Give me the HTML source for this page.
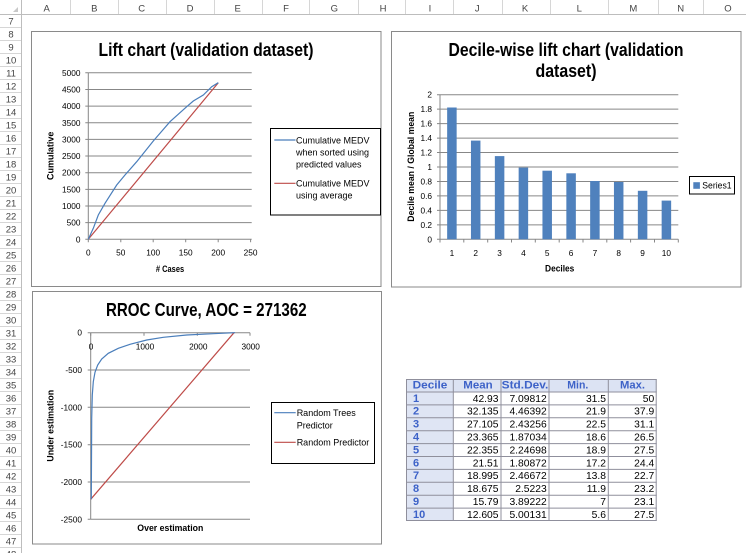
<!DOCTYPE html>
<html><head><meta charset="utf-8"><style>html,body{margin:0;padding:0;background:#fff}svg{display:block}text{font-family:"Liberation Sans",Arial,sans-serif}</style></head><body>
<svg width="746" height="553" viewBox="0 0 746 553" xmlns="http://www.w3.org/2000/svg">
<rect width="746" height="553" fill="#fff"/>
<!-- spreadsheet headers -->
<g stroke="#d6d6d6" stroke-width="1">
<path d="M70.5 0V14 M118.5 0V14 M166.5 0V14 M214.5 0V14 M262.5 0V14 M309.5 0V14 M358.5 0V14 M405.5 0V14 M453.5 0V14 M502.5 0V14 M550.5 0V14 M608.5 0V14 M658.5 0V14 M703.5 0V14"/>
<path d="M0 27.5H22 M0 40.5H22 M0 53.5H22 M0 66.5H22 M0 79.5H22 M0 92.5H22 M0 105.5H22 M0 118.5H22 M0 131.5H22 M0 144.5H22 M0 157.5H22 M0 170.5H22 M0 183.5H22 M0 196.5H22 M0 209.5H22 M0 222.5H22 M0 235.5H22 M0 248.5H22 M0 261.5H22 M0 274.5H22 M0 287.5H22 M0 300.5H22 M0 313.5H22 M0 326.5H22 M0 339.5H22 M0 352.5H22 M0 365.5H22 M0 378.5H22 M0 391.5H22 M0 404.5H22 M0 417.5H22 M0 430.5H22 M0 443.5H22 M0 456.5H22 M0 469.5H22 M0 482.5H22 M0 495.5H22 M0 508.5H22 M0 521.5H22 M0 534.5H22 M0 547.5H22"/>
</g>
<path d="M0 14.5H746 M21.5 0V553" stroke="#bdbdbd" stroke-width="1"/>
<polygon points="18,7 18,12 13,12" fill="#c8c8c8"/>
<g font-size="9.5" fill="#444" text-anchor="middle">
<text x="46.7" y="11.5">A</text><text x="94.3" y="11.5">B</text><text x="141.7" y="11.5">C</text><text x="190" y="11.5">D</text><text x="237.7" y="11.5">E</text><text x="286" y="11.5">F</text><text x="334.3" y="11.5">G</text><text x="383" y="11.5">H</text><text x="430" y="11.5">I</text><text x="477.3" y="11.5">J</text><text x="525" y="11.5">K</text><text x="579.3" y="11.5">L</text><text x="633.3" y="11.5">M</text><text x="680.7" y="11.5">N</text><text x="728" y="11.5">O</text>
</g>
<g font-size="9.5" fill="#444" text-anchor="middle">
<text x="11" y="24.3">7</text><text x="11" y="37.3">8</text><text x="11" y="50.3">9</text><text x="11" y="63.3">10</text><text x="11" y="76.3">11</text><text x="11" y="89.3">12</text><text x="11" y="102.3">13</text><text x="11" y="115.3">14</text><text x="11" y="128.3">15</text><text x="11" y="141.3">16</text><text x="11" y="154.3">17</text><text x="11" y="167.3">18</text><text x="11" y="180.3">19</text><text x="11" y="193.3">20</text><text x="11" y="206.3">21</text><text x="11" y="219.3">22</text><text x="11" y="232.3">23</text><text x="11" y="245.3">24</text><text x="11" y="258.3">25</text><text x="11" y="271.3">26</text><text x="11" y="284.3">27</text><text x="11" y="297.3">28</text><text x="11" y="310.3">29</text><text x="11" y="323.3">30</text><text x="11" y="336.3">31</text><text x="11" y="349.3">32</text><text x="11" y="362.3">33</text><text x="11" y="375.3">34</text><text x="11" y="388.3">35</text><text x="11" y="401.3">36</text><text x="11" y="414.3">37</text><text x="11" y="427.3">38</text><text x="11" y="440.3">39</text><text x="11" y="453.3">40</text><text x="11" y="466.3">41</text><text x="11" y="479.3">42</text><text x="11" y="492.3">43</text><text x="11" y="505.3">44</text><text x="11" y="518.3">45</text><text x="11" y="531.3">46</text><text x="11" y="544.3">47</text><text x="11" y="557.3">48</text>
</g>

<!-- CHART 1 -->
<rect x="31.5" y="31.5" width="349.5" height="255" fill="#fff" stroke="#8a8a8a"/>
<text x="206" y="56" text-anchor="middle" font-weight="bold" font-size="18" textLength="215" lengthAdjust="spacingAndGlyphs">Lift chart (validation dataset)</text>
<g stroke="#878787" stroke-width="1" fill="none">
<path d="M88.3 239.3H251.7 M88.3 222.65H251.7 M88.3 206H251.7 M88.3 189.35H251.7 M88.3 172.7H251.7 M88.3 156.05H251.7 M88.3 139.4H251.7 M88.3 122.75H251.7 M88.3 106.1H251.7 M88.3 89.45H251.7 M88.3 72.8H251.7"/>
<path d="M88.3 72.8V239.3"/>
<path d="M85.3 239.3H88.3 M85.3 222.65H88.3 M85.3 206H88.3 M85.3 189.35H88.3 M85.3 172.7H88.3 M85.3 156.05H88.3 M85.3 139.4H88.3 M85.3 122.75H88.3 M85.3 106.1H88.3 M85.3 89.45H88.3 M85.3 72.8H88.3"/>
<path d="M88.3 239.3V242.3 M120.8 239.3V242.3 M153.2 239.3V242.3 M185.7 239.3V242.3 M218.2 239.3V242.3 M250.6 239.3V242.3"/>
</g>
<g font-size="8.3" text-anchor="end" fill="#000">
<text x="80.5" y="242.3">0</text><text x="80.5" y="225.65">500</text><text x="80.5" y="209">1000</text><text x="80.5" y="192.35">1500</text><text x="80.5" y="175.7">2000</text><text x="80.5" y="159.05">2500</text><text x="80.5" y="142.4">3000</text><text x="80.5" y="125.75">3500</text><text x="80.5" y="109.1">4000</text><text x="80.5" y="92.45">4500</text><text x="80.5" y="75.8">5000</text>
</g>
<g font-size="8.3" text-anchor="middle" fill="#000">
<text x="88.3" y="255.5">0</text><text x="120.8" y="255.5">50</text><text x="153.2" y="255.5">100</text><text x="185.7" y="255.5">150</text><text x="218.2" y="255.5">200</text><text x="250.6" y="255.5">250</text>
</g>
<text x="170" y="272" text-anchor="middle" font-weight="bold" font-size="9" textLength="28.3" lengthAdjust="spacingAndGlyphs"># Cases</text>
<text transform="translate(53.3,155.8) rotate(-90)" text-anchor="middle" font-weight="bold" font-size="9" textLength="48.3" lengthAdjust="spacingAndGlyphs">Cumulative</text>
<polyline fill="none" stroke="#BE4B48" stroke-width="1.2" points="88.3,239.3 218.3,82.7"/>
<polyline fill="none" stroke="#4A7EBB" stroke-width="1.2" points="88.3,239.3 93.3,228.3 98.3,215 105,203.3 116.7,185 125,175 136.7,161.7 153.3,141 170,121.7 186.7,106.7 193.3,101 203.3,95 211.7,86.7 218.3,82.7"/>
<rect x="270.5" y="128.5" width="110" height="86.5" fill="#fff" stroke="#000"/>
<line x1="274.3" y1="140" x2="295.5" y2="140" stroke="#4A7EBB" stroke-width="1.2"/>
<line x1="274.3" y1="183.3" x2="295.5" y2="183.3" stroke="#BE4B48" stroke-width="1.2"/>
<g font-size="9" fill="#000">
<text x="296" y="143.3">Cumulative MEDV</text>
<text x="296" y="155.6">when sorted using</text>
<text x="296" y="167.5">predicted values</text>
<text x="296" y="186.5">Cumulative MEDV</text>
<text x="296" y="198.6">using average</text>
</g>

<!-- CHART 2 -->
<rect x="391.5" y="31.5" width="349.5" height="255.5" fill="#fff" stroke="#8a8a8a"/>
<text x="566" y="56" text-anchor="middle" font-weight="bold" font-size="18" textLength="235" lengthAdjust="spacingAndGlyphs">Decile-wise lift chart (validation</text>
<text x="566" y="77" text-anchor="middle" font-weight="bold" font-size="18" textLength="61" lengthAdjust="spacingAndGlyphs">dataset)</text>
<g stroke="#878787" stroke-width="1" fill="none">
<path d="M440 239.3H678.3 M440 224.84H678.3 M440 210.38H678.3 M440 195.92H678.3 M440 181.46H678.3 M440 167H678.3 M440 152.54H678.3 M440 138.08H678.3 M440 123.62H678.3 M440 109.16H678.3 M440 94.7H678.3"/>
<path d="M440 94.7V239.3"/>
<path d="M437 239.3H440 M437 224.84H440 M437 210.38H440 M437 195.92H440 M437 181.46H440 M437 167H440 M437 152.54H440 M437 138.08H440 M437 123.62H440 M437 109.16H440 M437 94.7H440"/>
<path d="M440 239.3V242.5 M463.8 239.3V242.5 M487.7 239.3V242.5 M511.5 239.3V242.5 M535.3 239.3V242.5 M559.2 239.3V242.5 M583 239.3V242.5 M606.8 239.3V242.5 M630.6 239.3V242.5 M654.5 239.3V242.5 M678.3 239.3V242.5"/>
</g>
<g fill="#4F81BD">
<rect x="447.15" y="107.5" width="9.5" height="131.8"/>
<rect x="470.95" y="140.6" width="9.5" height="98.7"/>
<rect x="494.85" y="156.1" width="9.5" height="83.2"/>
<rect x="518.65" y="167.6" width="9.5" height="71.7"/>
<rect x="542.45" y="170.7" width="9.5" height="68.6"/>
<rect x="566.35" y="173.3" width="9.5" height="66"/>
<rect x="590.15" y="181" width="9.5" height="58.3"/>
<rect x="613.95" y="182" width="9.5" height="57.3"/>
<rect x="637.85" y="190.8" width="9.5" height="48.5"/>
<rect x="661.65" y="200.6" width="9.5" height="38.7"/>
</g>
<g font-size="8.3" text-anchor="end" fill="#000">
<text x="432" y="242.3">0</text><text x="432" y="227.84">0.2</text><text x="432" y="213.38">0.4</text><text x="432" y="198.92">0.6</text><text x="432" y="184.46">0.8</text><text x="432" y="170">1</text><text x="432" y="155.54">1.2</text><text x="432" y="141.08">1.4</text><text x="432" y="126.62">1.6</text><text x="432" y="112.16">1.8</text><text x="432" y="97.7">2</text>
</g>
<g font-size="8.3" text-anchor="middle" fill="#000">
<text x="451.9" y="256">1</text><text x="475.7" y="256">2</text><text x="499.6" y="256">3</text><text x="523.4" y="256">4</text><text x="547.2" y="256">5</text><text x="571.1" y="256">6</text><text x="594.9" y="256">7</text><text x="618.7" y="256">8</text><text x="642.6" y="256">9</text><text x="666.4" y="256">10</text>
</g>
<text x="559.7" y="271.5" text-anchor="middle" font-weight="bold" font-size="9" textLength="29.3" lengthAdjust="spacingAndGlyphs">Deciles</text>
<text transform="translate(414,166.7) rotate(-90)" text-anchor="middle" font-weight="bold" font-size="9" textLength="110" lengthAdjust="spacingAndGlyphs">Decile mean / Global mean</text>
<rect x="689.5" y="176.5" width="45" height="17.5" fill="#fff" stroke="#000"/>
<rect x="693.3" y="182.2" width="6.6" height="6.6" fill="#4F81BD"/>
<text x="702.3" y="188.5" font-size="9" textLength="29.3" lengthAdjust="spacingAndGlyphs">Series1</text>

<!-- CHART 3 -->
<rect x="32.5" y="291.5" width="349" height="252.5" fill="#fff" stroke="#8a8a8a"/>
<text x="206.3" y="316" text-anchor="middle" font-weight="bold" font-size="18" textLength="200.7" lengthAdjust="spacingAndGlyphs">RROC Curve, AOC = 271362</text>
<g stroke="#878787" stroke-width="1" fill="none">
<path d="M90.7 332.7H250 M90.7 370H250 M90.7 407.3H250 M90.7 444.7H250 M90.7 482H250 M90.7 519.3H250"/>
<path d="M90.7 332.7V519.3"/>
<path d="M87.7 332.7H90.7 M87.7 370H90.7 M87.7 407.3H90.7 M87.7 444.7H90.7 M87.7 482H90.7 M87.7 519.3H90.7"/>
<path d="M90.7 332.7V335.7 M144 332.7V335.7 M197.3 332.7V335.7 M250 332.7V335.7"/>
</g>
<g font-size="8.3" text-anchor="end" fill="#000">
<text x="82" y="335.7">0</text><text x="82" y="373">-500</text><text x="82" y="410.3">-1000</text><text x="82" y="447.7">-1500</text><text x="82" y="485">-2000</text><text x="82" y="522.3">-2500</text>
</g>
<g font-size="8.3" text-anchor="middle" fill="#000">
<text x="91" y="349.5">0</text><text x="145" y="349.5">1000</text><text x="198.3" y="349.5">2000</text><text x="250.7" y="349.5">3000</text>
</g>
<text x="170.3" y="531" text-anchor="middle" font-weight="bold" font-size="9" textLength="66" lengthAdjust="spacingAndGlyphs">Over estimation</text>
<text transform="translate(53.3,425.8) rotate(-90)" text-anchor="middle" font-weight="bold" font-size="9" textLength="71.7" lengthAdjust="spacingAndGlyphs">Under estimation</text>
<polyline fill="none" stroke="#BE4B48" stroke-width="1.2" points="90.7,499.3 234,332.7"/>
<polyline fill="none" stroke="#4A7EBB" stroke-width="1.2" points="91.3,499.3 91.7,418.3 92.3,395 93.3,381.7 95,372.3 97.7,365 101.7,359 108.3,353.3 118.3,348.3 130,344.3 146.7,340 163.3,337.3 186.7,335 213.3,333.7 235,332.7"/>
<rect x="271.5" y="402.5" width="103" height="61" fill="#fff" stroke="#000"/>
<line x1="274.3" y1="412.7" x2="295.7" y2="412.7" stroke="#4A7EBB" stroke-width="1.2"/>
<line x1="274.3" y1="442.3" x2="295.7" y2="442.3" stroke="#BE4B48" stroke-width="1.2"/>
<g font-size="9" fill="#000">
<text x="296.7" y="416">Random Trees</text>
<text x="296.7" y="428.3">Predictor</text>
<text x="296.7" y="445.6">Random Predictor</text>
</g>

<!-- TABLE -->
<rect x="406" y="379" width="250.7" height="13" fill="#dce3f3"/>
<rect x="406" y="392" width="47.3" height="129" fill="#dfe5f4"/>
<g stroke="#8f8f9c" stroke-width="1" fill="none">
<path d="M406 379.5H656.7 M406 392H656.7 M406 404.9H656.7 M406 417.8H656.7 M406 430.7H656.7 M406 443.6H656.7 M406 456.5H656.7 M406 469.4H656.7 M406 482.3H656.7 M406 495.2H656.7 M406 508.1H656.7 M406 520.5H656.7"/>
<path d="M406.5 379V521 M453.3 379V521 M501 379V521 M549 379V521 M608.3 379V521 M656.2 379V521"/>
</g>
<g font-size="11" font-weight="bold" fill="#3d62c8" text-anchor="middle">
<text x="430" y="388.5" textLength="34.7" lengthAdjust="spacingAndGlyphs">Decile</text>
<text x="478" y="388.5" textLength="29.4" lengthAdjust="spacingAndGlyphs">Mean</text>
<text x="525" y="388.5" textLength="46.6" lengthAdjust="spacingAndGlyphs">Std.Dev.</text>
<text x="577.8" y="388.5" textLength="21" lengthAdjust="spacingAndGlyphs">Min.</text>
<text x="632.5" y="388.5" textLength="25" lengthAdjust="spacingAndGlyphs">Max.</text>
</g>
<g font-size="11" font-weight="bold" fill="#3d62c8">
<text x="413" y="401.8">1</text><text x="413" y="414.7">2</text><text x="413" y="427.6">3</text><text x="413" y="440.5">4</text><text x="413" y="453.4">5</text><text x="413" y="466.3">6</text><text x="413" y="479.2">7</text><text x="413" y="492.1">8</text><text x="413" y="505">9</text><text x="413" y="517.9">10</text>
</g>
<g font-size="10.3" fill="#000" text-anchor="end">
<text x="498.5" y="401.8">42.93</text><text x="546.7" y="401.8">7.09812</text><text x="606" y="401.8">31.5</text><text x="654.2" y="401.8">50</text>
<text x="498.5" y="414.7">32.135</text><text x="546.7" y="414.7">4.46392</text><text x="606" y="414.7">21.9</text><text x="654.2" y="414.7">37.9</text>
<text x="498.5" y="427.6">27.105</text><text x="546.7" y="427.6">2.43256</text><text x="606" y="427.6">22.5</text><text x="654.2" y="427.6">31.1</text>
<text x="498.5" y="440.5">23.365</text><text x="546.7" y="440.5">1.87034</text><text x="606" y="440.5">18.6</text><text x="654.2" y="440.5">26.5</text>
<text x="498.5" y="453.4">22.355</text><text x="546.7" y="453.4">2.24698</text><text x="606" y="453.4">18.9</text><text x="654.2" y="453.4">27.5</text>
<text x="498.5" y="466.3">21.51</text><text x="546.7" y="466.3">1.80872</text><text x="606" y="466.3">17.2</text><text x="654.2" y="466.3">24.4</text>
<text x="498.5" y="479.2">18.995</text><text x="546.7" y="479.2">2.46672</text><text x="606" y="479.2">13.8</text><text x="654.2" y="479.2">22.7</text>
<text x="498.5" y="492.1">18.675</text><text x="546.7" y="492.1">2.5223</text><text x="606" y="492.1">11.9</text><text x="654.2" y="492.1">23.2</text>
<text x="498.5" y="505">15.79</text><text x="546.7" y="505">3.89222</text><text x="606" y="505">7</text><text x="654.2" y="505">23.1</text>
<text x="498.5" y="517.9">12.605</text><text x="546.7" y="517.9">5.00131</text><text x="606" y="517.9">5.6</text><text x="654.2" y="517.9">27.5</text>
</g>
</svg>
</body></html>
